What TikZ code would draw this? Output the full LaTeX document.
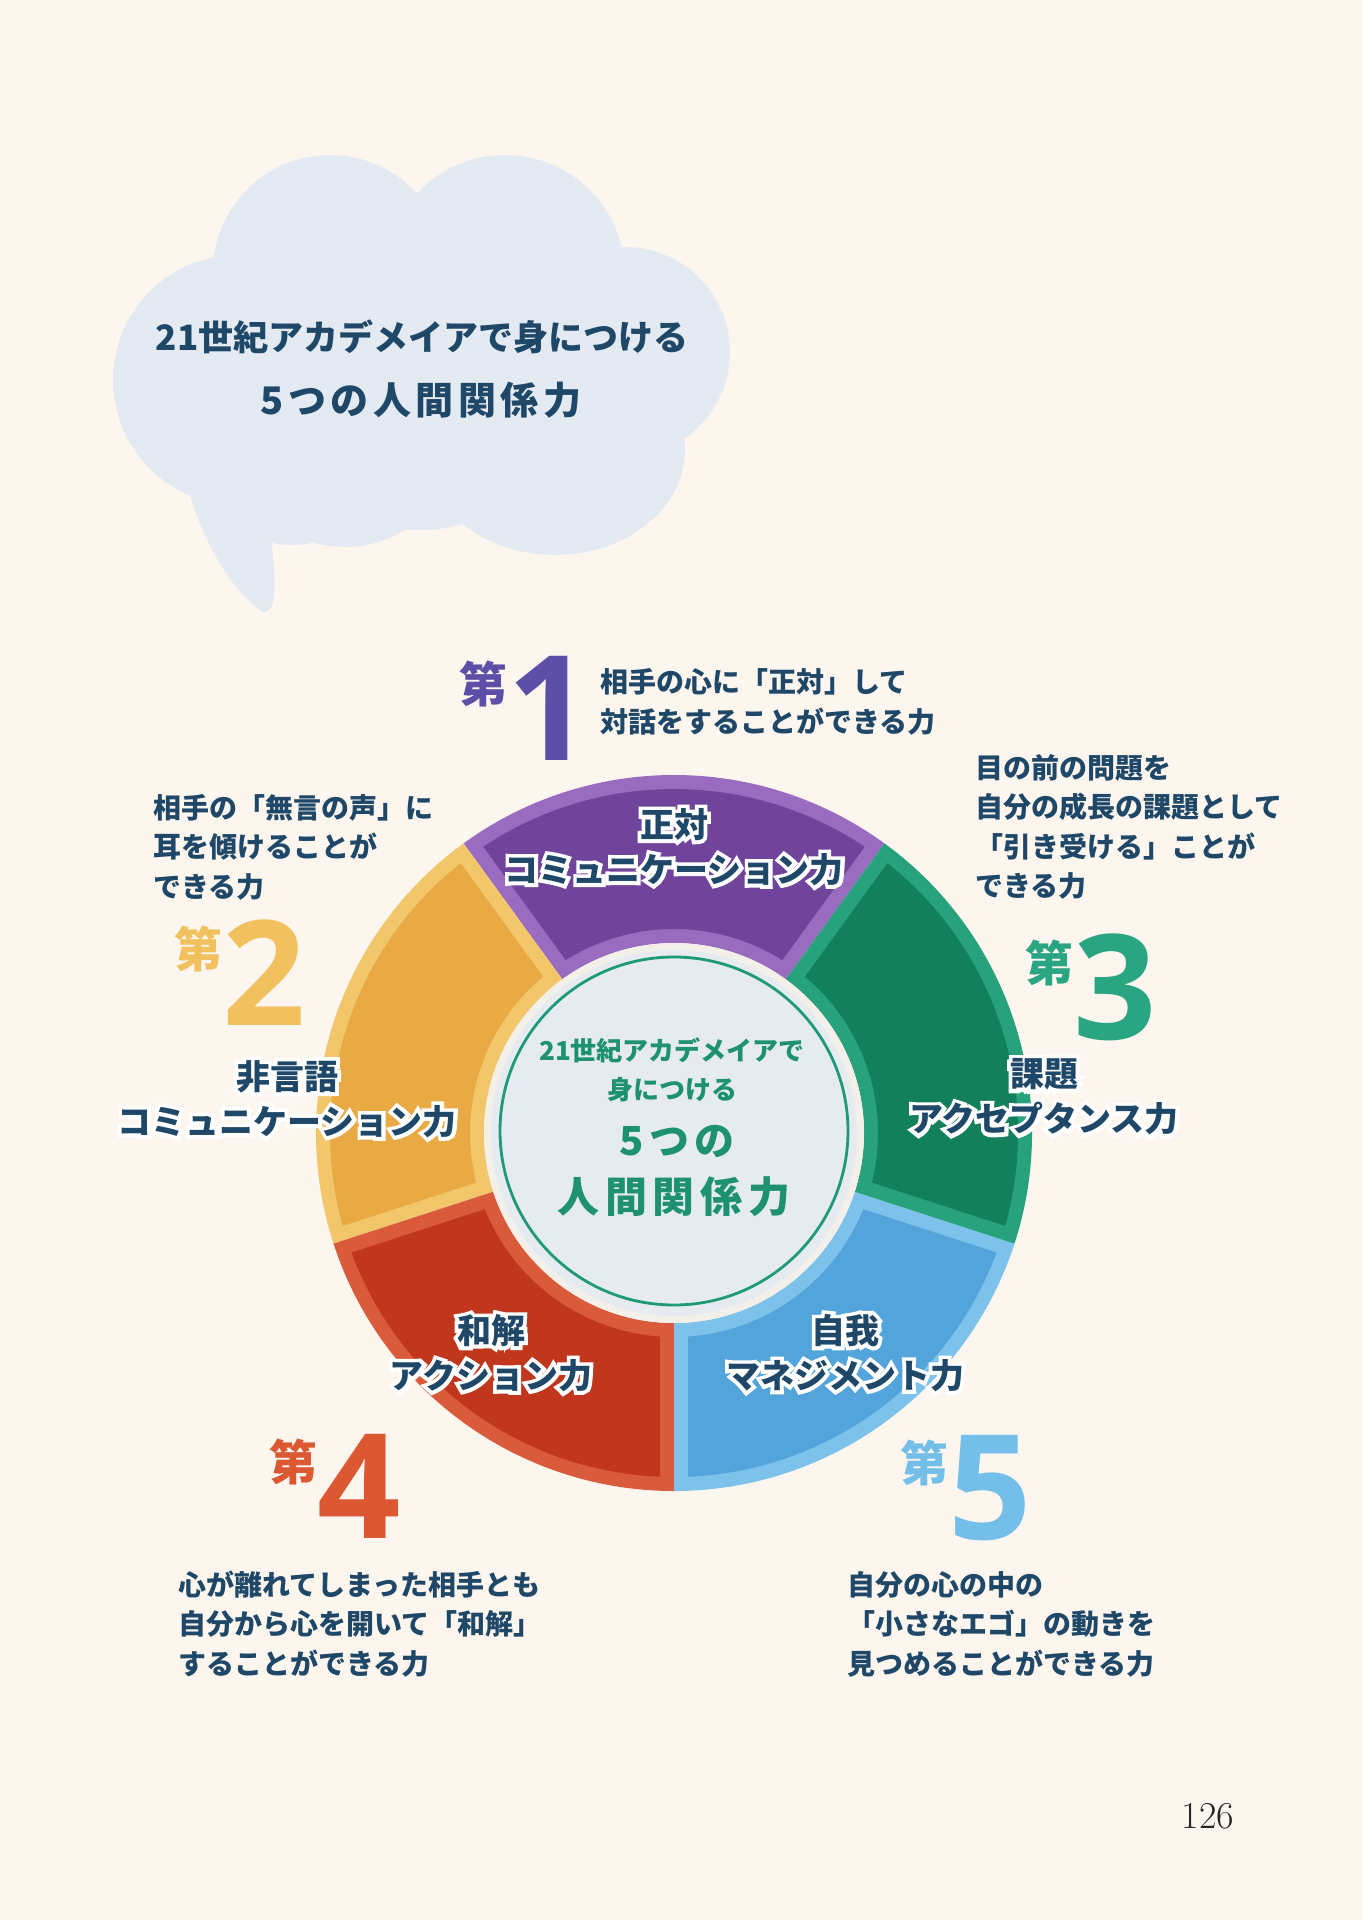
\documentclass[tikz,border=0pt]{standalone}
\usepackage{fontspec}
\newfontfamily\jp{Noto Sans CJK JP}
\newfontfamily\jpout{Noto Sans CJK JP}[FakeBold=22]
\newfontfamily\jpls{Noto Sans CJK JP}[LetterSpace=14]
\newfontfamily\jplt{Noto Sans CJK JP}[LetterSpace=12]
\newfontfamily\digf{Open Sans}
\newcommand\outl[1]{\leavevmode\rlap{\color{white}\jpout #1}#1}
\newcommand\dainum[1]{\raisebox{29pt}{\jp\bfseries\fontsize{24}{24}\selectfont 第}{\digf\bfseries\fontsize{73}{73}\selectfont #1}}
\definecolor{bgc}{HTML}{FDF6EF}
\definecolor{cloudc}{HTML}{E4EAF1}
\definecolor{navy}{HTML}{1F4868}
\definecolor{purD}{HTML}{71449B}
\definecolor{purL}{HTML}{9A6CC0}
\definecolor{grnD}{HTML}{12805A}
\definecolor{grnL}{HTML}{27A27C}
\definecolor{bluD}{HTML}{54A4DC}
\definecolor{bluL}{HTML}{7CC2EA}
\definecolor{redD}{HTML}{C1371D}
\definecolor{redL}{HTML}{DA5B3B}
\definecolor{yelD}{HTML}{E9A943}
\definecolor{yelL}{HTML}{F2C76C}
\definecolor{discc}{HTML}{E6EBF1}
\definecolor{rimc}{HTML}{F3F0EA}
\definecolor{ctr}{HTML}{1E9270}
\definecolor{ring}{HTML}{1E9B76}
\definecolor{num1}{HTML}{5D4EA7}
\definecolor{num2}{HTML}{F1C15F}
\definecolor{num3}{HTML}{2AA582}
\definecolor{num4}{HTML}{DC5833}
\definecolor{num5}{HTML}{74BFE9}
\def\segR{358}
\def\segr{190}
\def\segd{14}
\newcommand\ringseg[4]{%
  \pgfmathsetmacro\segAo{#1+asin(\segd/(\segR-\segd))}%
  \pgfmathsetmacro\segBo{#2-asin(\segd/(\segR-\segd))}%
  \pgfmathsetmacro\segAi{#1+asin(\segd/(\segr+\segd))}%
  \pgfmathsetmacro\segBi{#2-asin(\segd/(\segr+\segd))}%
  \pgfmathsetmacro\segRo{\segR-\segd}%
  \pgfmathsetmacro\segRi{\segr+\segd}%
  \fill[#3] (#1:\segr) arc[start angle=#1,end angle=#2,radius=\segr]
    -- (#2:\segR) arc[start angle=#2,end angle=#1,radius=\segR] -- cycle;
  \fill[#4] (\segAi:\segRi) arc[start angle=\segAi,end angle=\segBi,radius=\segRi]
    -- (\segBo:\segRo) arc[start angle=\segBo,end angle=\segAo,radius=\segRo] -- cycle;
}
\begin{document}
\begin{tikzpicture}[x=0.5pt,y=-0.5pt,
  seglabel/.style={font=\jp\bfseries\fontsize{17}{22.5}\selectfont, text=navy, align=center, inner sep=0pt},
  desc/.style={font=\jp\bfseries\fontsize{14}{19.75}\selectfont, text=navy, align=left, anchor=west, inner sep=0pt},
  num/.style={anchor=base west, inner sep=0pt},
  ctext/.style={text=ctr, inner sep=0pt},
  ttl/.style={text=navy, inner sep=0pt}]
\useasboundingbox (0,0) rectangle (1362,1920);
\fill[bgc] (0,0) rectangle (1362,1920);
% cloud
\begin{scope}[cloudc]
\fill (238,380) ellipse[x radius=125, y radius=125];
\fill (330,272) circle[radius=117];
\fill (505,275) circle[radius=120];
\fill (625,352) circle[radius=105];
\fill (555,450) ellipse[x radius=130, y radius=105];
\fill (345,435) circle[radius=112];
\fill (292,452) circle[radius=93];
\fill (420,370) circle[radius=160];
\fill (180,455) .. controls (195,535) and (232,592) .. (263,612)
      .. controls (278,612) and (276,585) .. (270,525) -- cycle;
\end{scope}
\node[ttl, font=\jp\bfseries\fontsize{17.5}{17.5}\selectfont] (title1) at (422,337) {21世紀アカデメイアで身につける};
\node[ttl, font=\jplt\bfseries\fontsize{19}{19}\selectfont] (title2) at (421,400) {5つの人間関係力};
% ring
\begin{scope}[shift={(674,1133)}, yscale=-1]
\ringseg{54}{126}{purL}{purD}
\ringseg{126}{198}{yelL}{yelD}
\ringseg{198}{270}{redL}{redD}
\ringseg{270}{342}{bluL}{bluD}
\ringseg{342}{414}{grnL}{grnD}
\fill[rimc] (0,0) circle[radius=190];
\fill[discc] (0,0) circle[radius=183];
\draw[ring, line width=1.4pt] (0,2) circle[radius=174];
\end{scope}
% center text
\node[ctext, font=\jp\bfseries\fontsize{13}{13}\selectfont] (c1) at (672,1050) {21世紀アカデメイアで};
\node[ctext, font=\jp\bfseries\fontsize{13}{13}\selectfont] (c2) at (672,1090) {身につける};
\node[ctext, font=\jpls\bfseries\fontsize{20}{20}\selectfont] (c3) at (677,1141) {5つの};
\node[ctext, font=\jpls\bfseries\fontsize{21}{21}\selectfont] (c4) at (674,1197) {人間関係力};
% segment labels
\node[seglabel] (s1) at (674,847) {\outl{正対}\\\outl{コミュニケーション力}};
\node[seglabel] (s2) at (287,1099) {\outl{非言語}\\\outl{コミュニケーション力}};
\node[seglabel] (s3) at (1044,1097) {\outl{課題}\\\outl{アクセプタンス力}};
\node[seglabel] (s4) at (491,1353) {\outl{和解}\\\outl{アクション力}};
\node[seglabel] (s5) at (845,1353) {\outl{自我}\\\outl{マネジメント力}};
% numbers
\node[num, text=num1] (n1) at (459,760) {\dainum{1}};
\node[num, text=num2] (n2) at (174,1025) {\dainum{2}};
\node[num, text=num3] (n3) at (1025,1039) {\dainum{3}};
\node[num, text=num4] (n4) at (269,1538) {\dainum{4}};
\node[num, text=num5] (n5) at (900,1539) {\dainum{5}};
% descriptions
\node[desc] (t1) at (600,702) {相手の心に「正対」して\\対話をすることができる力};
\node[desc] (t2) at (153,847) {相手の「無言の声」に\\耳を傾けることが\\できる力};
\node[desc] (t3) at (975,827) {目の前の問題を\\自分の成長の課題として\\「引き受ける」ことが\\できる力};
\node[desc] (t4) at (178,1624) {心が離れてしまった相手とも\\自分から心を開いて「和解」\\することができる力};
\node[desc] (t5) at (847,1624) {自分の心の中の\\「小さなエゴ」の動きを\\見つめることができる力};
% page number
\node[inner sep=0pt, text=black!85, font=\fontsize{19}{20}\selectfont] (pg) at (1208,1816) {126};
\end{tikzpicture}
\end{document}
